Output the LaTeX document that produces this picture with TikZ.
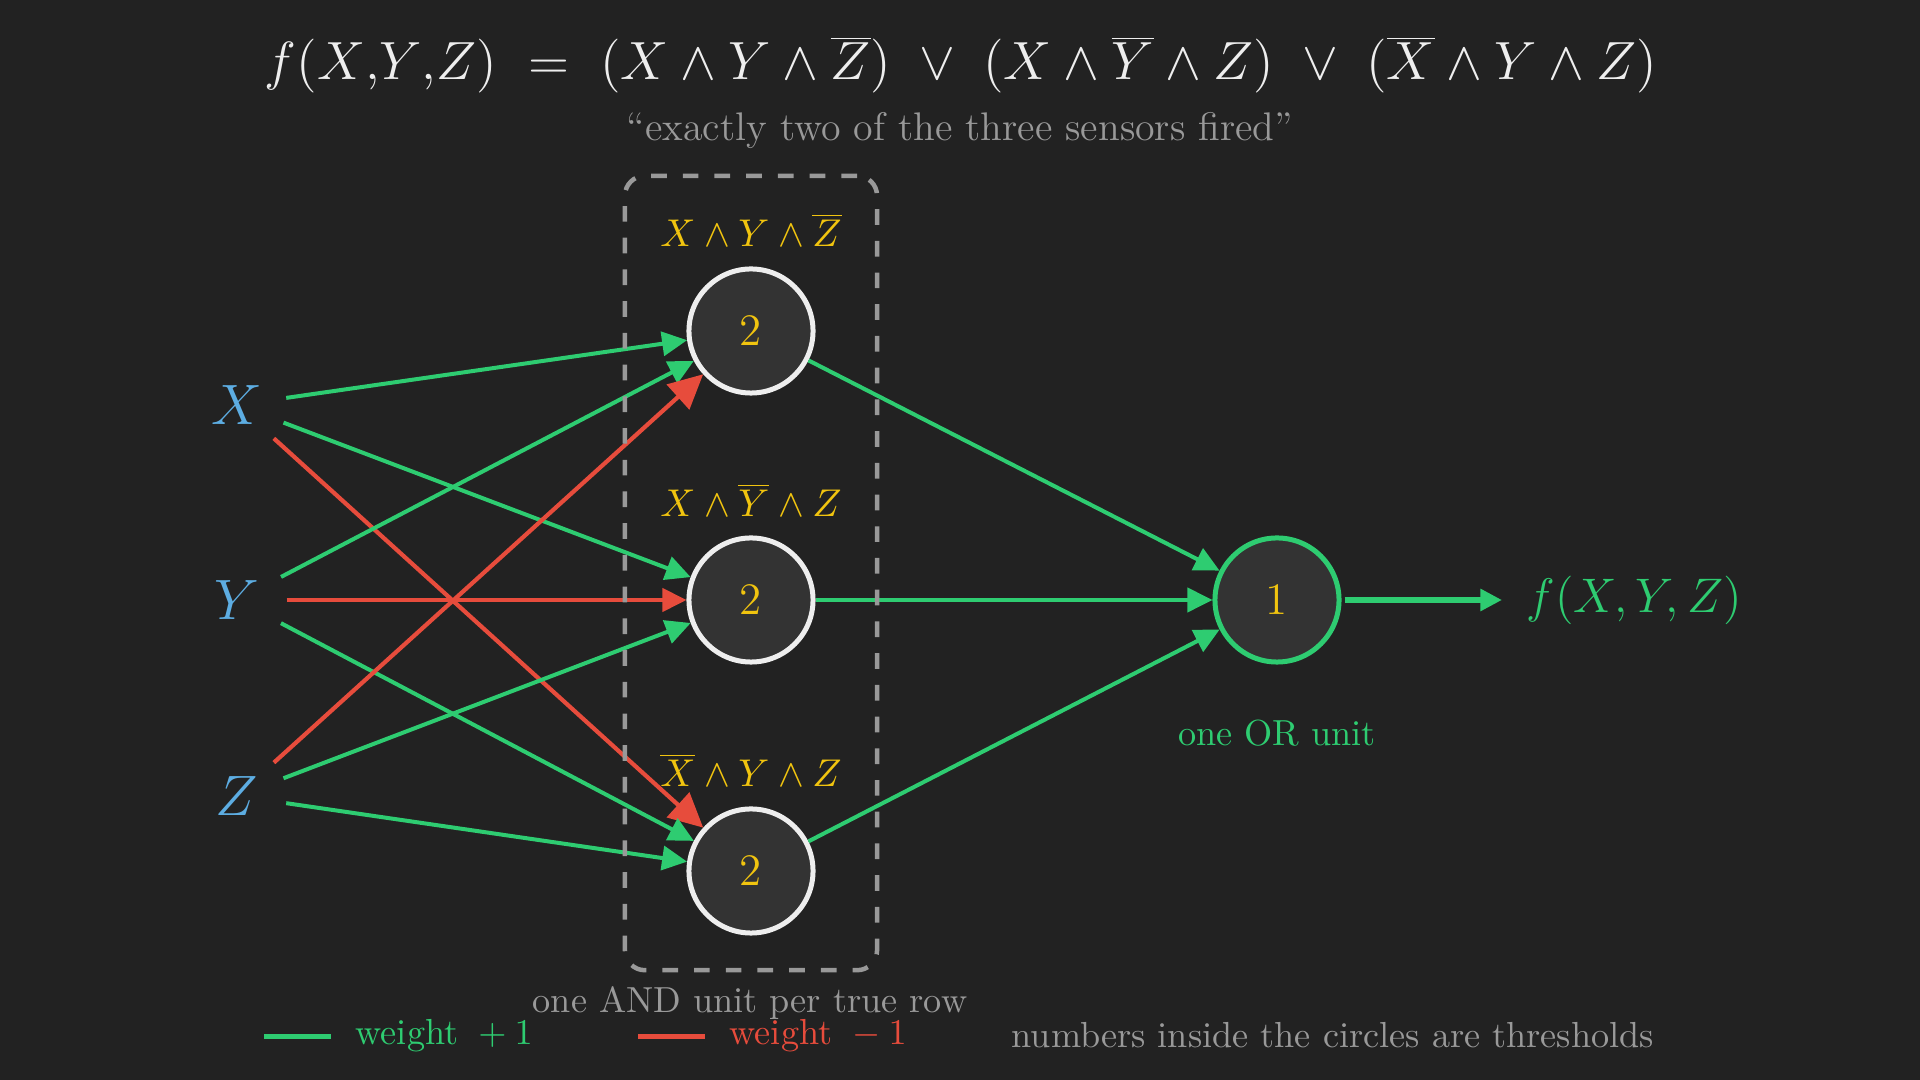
\RequirePackage{fix-cm}
\documentclass[tikz,border=0pt]{standalone}
\usetikzlibrary{arrows.meta}
\definecolor{bg}{HTML}{222222}
\definecolor{grn}{HTML}{2ECC71}
\definecolor{rd}{HTML}{E74C3C}
\definecolor{blu}{HTML}{5DADE2}
\definecolor{ylw}{HTML}{F1C40F}
\definecolor{cfill}{HTML}{333333}
\definecolor{cline}{HTML}{EEEEEE}
\definecolor{gry}{HTML}{999999}
\definecolor{ttl}{HTML}{EEEEEE}
\newcommand\setfs[1]{\fontsize{#1pt}{#1pt}\selectfont}
\tikzset{
  andunit/.style={circle, draw=cline, fill=cfill, line width=0.5mm, minimum size=12.4mm, inner sep=0pt, text=ylw, font=\setfs{12.8}},
  orunit/.style={andunit, draw=grn},
  inp/.style={circle, inner sep=0pt, minimum size=9.8mm, text=blu, font=\setfs{16.2}},
  posedge/.style={draw=grn, line width=0.4mm, -{Triangle[length=2.5mm,width=2.4mm]}},
  negedge/.style={draw=rd, line width=0.42mm, -{Triangle[length=2.4mm,width=2.3mm]}},
  negbigedge/.style={draw=rd, line width=0.42mm, -{Triangle[length=3.4mm,width=3.3mm]}},
  outarrow/.style={draw=grn, line width=0.55mm, shorten <=0.3mm, -{Triangle[length=2.15mm,width=2.1mm]}},
  andlbl/.style={text=ylw, font=\setfs{11.0}, anchor=base, inner sep=0pt},
  captxt/.style={font=\setfs{10.3}, inner sep=0pt},
  legline/.style={line width=0.5mm},
}
\begin{document}
\begin{tikzpicture}[x=0.01cm,y=-0.01cm]
\fill[bg] (0,0) rectangle (1920,1080);
\useasboundingbox (0,0) rectangle (1920,1080);

% title
\node[anchor=base, text=ttl, font=\setfs{15.3}, inner sep=0pt] (title) at (961,80)
  {$f(X{,}Y{,}Z)\ =\ (X\wedge Y\wedge\overline{Z})\ \vee\ (X\wedge\overline{Y}\wedge Z)\ \vee\ (\overline{X}\wedge Y\wedge Z)$};
\node[anchor=base, text=gry, font=\setfs{11.35}, inner sep=0pt] (sub) at (960,141)
  {``exactly two of the three sensors fired''};

% inputs
\node[inp] (X) at (237,405) {$X$};
\node[inp] (Y) at (237,600) {$Y$};
\node[inp] (Z) at (237,796) {$Z$};

% AND units
\node[andunit] (A1) at (751,331) {2};
\node[andunit] (A2) at (751,600) {2};
\node[andunit] (A3) at (751,871) {2};
\node[andlbl] (L1) at (751,247) {$X\wedge Y\wedge\overline{Z}$};
\node[andlbl] (L2) at (751,517) {$X\wedge\overline{Y}\wedge Z$};
\node[andlbl] (L3) at (751,787) {$\overline{X}\wedge Y\wedge Z$};

% OR unit
\node[orunit] (OR) at (1277,600) {1};
\coordinate (outc) at (1502,600);
\node[anchor=west, text=grn, font=\setfs{13.8}, inner sep=0pt] (fout) at (1526,600) {$f(X,Y,Z)$};
\node[captxt, text=grn, anchor=base] (orcap) at (1277,746) {one OR unit};

% edges
\draw[posedge] (X) -- (A1);
\draw[posedge] (X) -- (A2);
\draw[negbigedge] (X) -- (A3);
\draw[posedge] (Y) -- (A1);
\draw[negedge] (Y) -- (A2);
\draw[posedge] (Y) -- (A3);
\draw[negbigedge] (Z) -- (A1);
\draw[posedge] (Z) -- (A2);
\draw[posedge] (Z) -- (A3);
\draw[posedge] (A1) -- (OR);
\draw[posedge] (A2) -- (OR);
\draw[posedge] (A3) -- (OR);
\draw[outarrow] (OR) -- (outc);

% dashed group box
\node[draw=gry, line width=0.45mm, dash pattern=on 1.57mm off 1.6mm, rounded corners=2mm,
      minimum width=25.2mm, minimum height=79.4mm, inner sep=0pt] (box) at (751,573) {};
\node[captxt, text=gry, anchor=base] (andcap) at (750,1013) {one AND unit per true row};

% legend
\coordinate (g1) at (264,1037);
\coordinate (g2) at (331,1037);
\draw[legline, grn] (g1) -- (g2);
\node[captxt, text=grn, anchor=base west] (wp) at (355,1045) {weight ${}+1$};
\coordinate (r1) at (638,1037);
\coordinate (r2) at (705,1037);
\draw[legline, rd] (r1) -- (r2);
\node[captxt, text=rd, anchor=base west] (wn) at (729,1045) {weight ${}-1$};
\node[captxt, text=gry, anchor=base west] (note) at (1011,1048) {numbers inside the circles are thresholds};
\end{tikzpicture}
\end{document}
